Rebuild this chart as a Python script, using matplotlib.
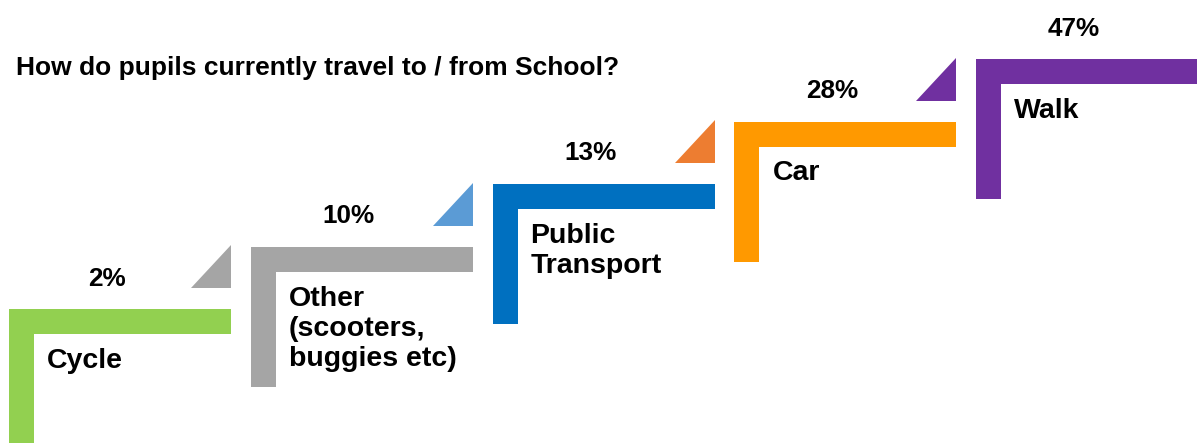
import matplotlib
matplotlib.use("Agg")
import matplotlib.pyplot as plt
from matplotlib.patches import Rectangle, Polygon

# ---- data ----
categories = ["Cycle", "Other\n(scooters,\nbuggies etc)", "Public\nTransport", "Car", "Walk"]
percentages = [2, 10, 13, 28, 47]
step_colors = ["#92D050", "#A5A5A5", "#0070C0", "#FF9900", "#7030A0"]
triangle_colors = ["#A5A5A5", "#5B9BD5", "#ED7D31", "#7030A0"]
title = "How do pupils currently travel to / from School?"

# ---- layout (pixel units, y downward) ----
W, H = 1197, 443
x_start, y_start = 9, 309
dx, dy = 241.8, 62.5
thick, hlen, vlen = 25, 222, 140
tri_w, tri_h, tri_gap = 40, 43, 21

fig = plt.figure(figsize=(W / 100, H / 100), dpi=100)
ax = fig.add_axes([0, 0, 1, 1])
ax.set_xlim(0, W)
ax.set_ylim(H, 0)
ax.axis("off")

font = "Liberation Sans"

for i, (cat, pct, col) in enumerate(zip(categories, percentages, step_colors)):
    x0 = x_start + i * dx
    y0 = y_start - i * dy
    # horizontal bar
    ax.add_patch(Rectangle((x0, y0), hlen, thick, facecolor=col, edgecolor="none"))
    # vertical bar
    ax.add_patch(Rectangle((x0, y0), thick, vlen, facecolor=col, edgecolor="none"))
    # percentage label
    ax.text(x0 + 98, y0 - 33, f"{pct}%", ha="center", va="center_baseline",
            fontsize=18.8, fontweight="bold", family=font, color="black")
    # category label
    for j, line in enumerate(cat.split("\n")):
        ax.text(x0 + 38, y0 + 59 + j * 30, line, ha="left", va="baseline",
                fontsize=20.5, fontweight="bold", family=font, color="black")
    # triangle leading to next step
    if i < len(triangle_colors):
        xr = x0 + hlen
        yb = y0 - tri_gap
        ax.add_patch(Polygon([(xr - tri_w, yb), (xr, yb), (xr, yb - tri_h)],
                             closed=True, facecolor=triangle_colors[i], edgecolor="none"))

ax.text(16, 75, title, ha="left", va="baseline", fontsize=19, fontweight="bold",
        family=font, color="black")

fig.savefig("out.png", dpi=100)
